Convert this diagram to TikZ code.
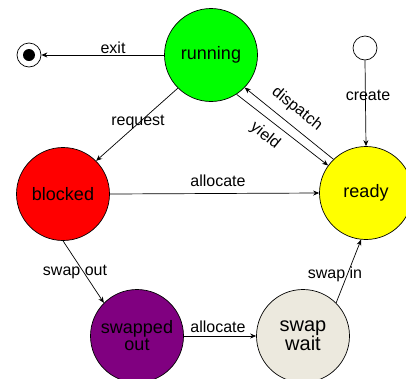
\documentclass[tikz,border=0pt]{standalone}
\usepackage{fontspec}
\setmainfont{Liberation Sans}
\usetikzlibrary{arrows.meta}
\begin{document}
\begin{tikzpicture}[x=1pt,y=-1pt,
  state/.style={circle,draw=black,line width=0.7pt,minimum size=93pt,inner sep=0pt,align=center,font=\fontsize{18}{19}\selectfont},
  lbl/.style={font=\fontsize{16}{17}\selectfont,inner sep=0pt},
  edge/.style={draw=black,line width=0.7pt,-{Stealth[length=6pt,width=5pt]}}]
\useasboundingbox (0,0) rectangle (406,378);
\fill[white] (0,0) rectangle (406,378);
\node[state,fill={rgb,255:red,0;green,255;blue,0}] (run) at (211,55) {running};
\node[state,fill={rgb,255:red,255;green,255;blue,0}] (ready) at (366,193) {ready};
\node[state,fill={rgb,255:red,255;green,0;blue,0}] (blk) at (63,194) {blocked};
\node[state,fill={rgb,255:red,128;green,0;blue,128}] (swo) at (137,336) {swapped\\[-2pt]out};
\node[state,fill={rgb,255:red,236;green,233;blue,222},font=\fontsize{20}{21}\selectfont] (sww) at (303,336) {swap\\[-2pt]wait};
\node[circle,draw=black,line width=0.7pt,minimum size=24pt,inner sep=0pt] (init) at (365,48) {};
\node[circle,draw=black,line width=0.7pt,minimum size=24pt,inner sep=0pt] (fin) at (29,55) {};
\fill[black] (fin.center) circle (6pt);
\draw[edge] (run.west) -- (fin.east);
\node[lbl] (lexit) at (113,48) {exit};
\draw[edge] (run.225) -- (blk.45);
\node[lbl] (lreq) at (138,122) {request};
\draw[edge] (init.south) -- (ready.north);
\node[lbl] (lcre) at (368,95) {create};
\draw[edge] (ready.134) -- (run.-44);
\draw[edge] (run.-57) -- (ready.144);
\node[lbl,rotate=-39] (ldis) at (297,109) {dispatch};
\node[lbl,rotate=-39] (lyie) at (265,136) {yield};
\draw[edge] (blk.east) -- (ready.west);
\node[lbl] (lal1) at (218,181) {allocate};
\draw[edge] (blk.south) -- (swo.north west);
\node[lbl] (lso) at (75,272) {swap out};
\draw[edge] (sww.north east) -- (ready.264);
\node[lbl] (lsi) at (335,274) {swap in};
\draw[edge] (swo.east) -- (sww.west);
\node[lbl] (lal2) at (218,327) {allocate};
\end{tikzpicture}
\end{document}
